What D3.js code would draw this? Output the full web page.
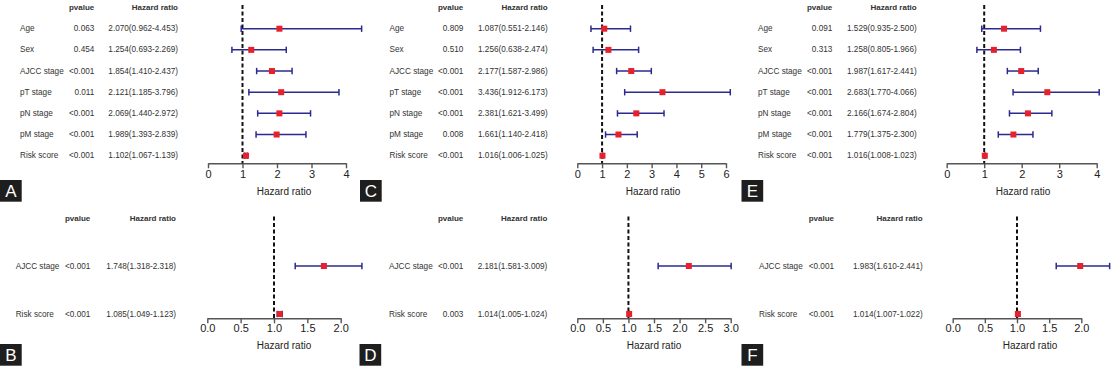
<!DOCTYPE html>
<html>
<head>
<meta charset="utf-8">
<script src="https://cdn.jsdelivr.net/npm/d3@7/dist/d3.min.js"></script>
<style>
  html, body { margin: 0; padding: 0; background: #fff; }
  svg { display: block; font-family: "Liberation Sans", Arial, Helvetica, sans-serif; }
</style>
</head>
<body>
<svg id="chart" width="1112" height="366"></svg>
<script>
// ---------------- DATA ----------------
const topVars = ["Age", "Sex", "AJCC stage", "pT stage", "pN stage", "pM stage", "Risk score"];
const bottomVars = ["AJCC stage", "Risk score"];

// Panel A
const pA  = ["0.063", "0.454", "<0.001", "0.011", "<0.001", "<0.001", "<0.001"];
const hrA = [2.070, 1.254, 1.854, 2.121, 2.069, 1.989, 1.102];
const loA = [0.962, 0.693, 1.410, 1.185, 1.440, 1.393, 1.067];
const hiA = [4.453, 2.269, 2.437, 3.796, 2.972, 2.839, 1.139];
const ticksA = [0, 1, 2, 3, 4];

// Panel C
const pC  = ["0.809", "0.510", "<0.001", "<0.001", "<0.001", "0.008", "<0.001"];
const hrC = [1.087, 1.256, 2.177, 3.436, 2.381, 1.661, 1.016];
const loC = [0.551, 0.638, 1.587, 1.912, 1.621, 1.140, 1.006];
const hiC = [2.146, 2.474, 2.986, 6.173, 3.499, 2.418, 1.025];
const ticksC = [0, 1, 2, 3, 4, 5, 6];

// Panel E
const pE  = ["0.091", "0.313", "<0.001", "<0.001", "<0.001", "<0.001", "<0.001"];
const hrE = [1.529, 1.258, 1.987, 2.683, 2.166, 1.779, 1.016];
const loE = [0.935, 0.805, 1.617, 1.770, 1.674, 1.375, 1.008];
const hiE = [2.500, 1.966, 2.441, 4.066, 2.804, 2.300, 1.023];
const ticksE = [0, 1, 2, 3, 4];

// Panel B
const pB  = ["<0.001", "<0.001"];
const hrB = [1.748, 1.085];
const loB = [1.318, 1.049];
const hiB = [2.318, 1.123];
const ticksB = [0, 0.5, 1, 1.5, 2];

// Panel D
const pD  = ["<0.001", "0.003"];
const hrD = [2.181, 1.014];
const loD = [1.581, 1.005];
const hiD = [3.009, 1.024];
const ticksD = [0, 0.5, 1, 1.5, 2, 2.5, 3];

// Panel F
const pF  = ["<0.001", "<0.001"];
const hrF = [1.983, 1.014];
const loF = [1.610, 1.007];
const hiF = [2.441, 1.022];
const ticksF = [0, 0.5, 1, 1.5, 2];

const panelLetters = ["A", "B", "C", "D", "E", "F"];

// ---------------- LAYOUT ----------------
const topRow = { header: 7, rows: [28.7, 155.7], axisY: 163.3, tickY: 173.5, titleY: 191, dashTop: 5, letterY: 180 };
const botRow = { header: 218.3, rows: [266, 314], axisY: 318.3, tickY: 327.5, titleY: 345.7, dashTop: 216.5, letterY: 344 };

const panels = [
  { letter: "A", row: topRow, vars: topVars, p: pA, hr: hrA, lo: loA, hi: hiA, ticks: ticksA, fmt: d3.format("d"),
    x0: 208, x1: 346, labelX: 20, pvalX: 94.3, hrX: 178, titleX: 284, letterX: 0 },
  { letter: "C", row: topRow, vars: topVars, p: pC, hr: hrC, lo: loC, hi: hiC, ticks: ticksC, fmt: d3.format("d"),
    x0: 577.3, x1: 726, labelX: 389.5, pvalX: 463.3, hrX: 547.7, titleX: 653, letterX: 360 },
  { letter: "E", row: topRow, vars: topVars, p: pE, hr: hrE, lo: loE, hi: hiE, ticks: ticksE, fmt: d3.format("d"),
    x0: 946.7, x1: 1096.7, labelX: 758, pvalX: 832.3, hrX: 916.7, titleX: 1023, letterX: 741.5 },
  { letter: "B", row: botRow, vars: bottomVars, p: pB, hr: hrB, lo: loB, hi: hiB, ticks: ticksB, fmt: d3.format(".1f"),
    x0: 207.3, x1: 340.7, labelX: 15.7, pvalX: 90.3, hrX: 176, titleX: 284, letterX: 0 },
  { letter: "D", row: botRow, vars: bottomVars, p: pD, hr: hrD, lo: loD, hi: hiD, ticks: ticksD, fmt: d3.format(".1f"),
    x0: 577.3, x1: 730.7, labelX: 389, pvalX: 463.3, hrX: 547.3, titleX: 654, letterX: 359.5 },
  { letter: "F", row: botRow, vars: bottomVars, p: pF, hr: hrF, lo: loF, hi: hiF, ticks: ticksF, fmt: d3.format(".1f"),
    x0: 952.7, x1: 1081.3, labelX: 759, pvalX: 834, hrX: 922.7, titleX: 1030, letterX: 741.5 }
];

const svg = d3.select("#chart");
const textColor = "#333";
const ciColor = "#2a2a90";
const markColor = "#e8202a";

panels.forEach(P => {
  const g = svg.append("g");
  const R = P.row;
  const domainMax = P.ticks[P.ticks.length - 1];
  const x = d3.scaleLinear().domain([0, domainMax]).range([P.x0, P.x1]);
  const y = d3.scalePoint().domain(P.vars).range(R.rows);

  // headers
  g.append("text").attr("x", P.pvalX).attr("y", R.header).attr("text-anchor", "end")
    .attr("dominant-baseline", "central").attr("font-size", 8).attr("font-weight", "bold")
    .attr("fill", textColor).text("pvalue");
  g.append("text").attr("x", P.hrX).attr("y", R.header).attr("text-anchor", "end")
    .attr("dominant-baseline", "central").attr("font-size", 8).attr("font-weight", "bold")
    .attr("fill", textColor).text("Hazard ratio");

  const rows = P.vars.map((v, i) => ({ v, p: P.p[i], hr: P.hr[i], lo: P.lo[i], hi: P.hi[i] }));

  // table columns
  g.selectAll(".lab").data(rows).enter().append("text")
    .attr("x", P.labelX).attr("y", d => y(d.v)).attr("dominant-baseline", "central")
    .attr("font-size", 8.2).attr("fill", textColor).text(d => d.v);
  g.selectAll(".pv").data(rows).enter().append("text")
    .attr("x", P.pvalX).attr("y", d => y(d.v)).attr("dominant-baseline", "central").attr("text-anchor", "end")
    .attr("font-size", 8.2).attr("fill", textColor).text(d => d.p);
  g.selectAll(".hrt").data(rows).enter().append("text")
    .attr("x", P.hrX).attr("y", d => y(d.v)).attr("dominant-baseline", "central").attr("text-anchor", "end")
    .attr("font-size", 8.2).attr("fill", textColor)
    .text(d => `${d.hr.toFixed(3)}(${d.lo.toFixed(3)}-${d.hi.toFixed(3)})`);

  // axis
  const axis = d3.axisBottom(x).tickValues(P.ticks).tickFormat(P.fmt).tickSize(5).tickSizeOuter(0).tickPadding(3);
  const ax = g.append("g").attr("transform", `translate(0,${R.axisY})`).call(axis);
  ax.select(".domain").attr("stroke", "#555").attr("stroke-width", 1.4);
  ax.selectAll(".tick line").attr("stroke", "#555").attr("stroke-width", 1.4);
  ax.selectAll(".tick text").attr("font-size", 11).attr("fill", "#222")
    .attr("font-family", "'Liberation Sans', Arial, sans-serif")
    .attr("y", null).attr("dy", null).attr("dominant-baseline", "central")
    .attr("transform", `translate(0,${R.tickY - R.axisY})`);

  g.append("text").attr("x", P.titleX).attr("y", R.titleY).attr("text-anchor", "middle")
    .attr("dominant-baseline", "central").attr("font-size", 10).attr("fill", "#222").text("Hazard ratio");

  // reference line at HR = 1
  g.append("line").attr("x1", x(1)).attr("x2", x(1)).attr("y1", R.dashTop).attr("y2", R.axisY)
    .attr("stroke", "#111").attr("stroke-width", 2).attr("stroke-dasharray", "4,2.5");

  // CIs
  const cap = 3.2;
  const ci = g.selectAll(".ci").data(rows).enter().append("g");
  ci.append("line").attr("x1", d => x(d.lo)).attr("x2", d => x(d.hi))
    .attr("y1", d => y(d.v)).attr("y2", d => y(d.v)).attr("stroke", ciColor).attr("stroke-width", 1.5);
  ci.append("line").attr("x1", d => x(d.lo)).attr("x2", d => x(d.lo))
    .attr("y1", d => y(d.v) - cap).attr("y2", d => y(d.v) + cap).attr("stroke", ciColor).attr("stroke-width", 1.5);
  ci.append("line").attr("x1", d => x(d.hi)).attr("x2", d => x(d.hi))
    .attr("y1", d => y(d.v) - cap).attr("y2", d => y(d.v) + cap).attr("stroke", ciColor).attr("stroke-width", 1.5);
  const ms = 6;
  ci.append("rect").attr("x", d => x(d.hr) - ms / 2).attr("y", d => y(d.v) - ms / 2)
    .attr("width", ms).attr("height", ms).attr("fill", markColor);

  // panel letter
  g.append("rect").attr("x", P.letterX).attr("y", R.letterY).attr("width", 21.7).attr("height", 21.7).attr("fill", "#1e1e1e");
  g.append("text").attr("x", P.letterX + 10.85).attr("y", R.letterY + 11.5).attr("text-anchor", "middle")
    .attr("dominant-baseline", "central").attr("font-size", 17).attr("fill", "#fff").text(P.letter);
});
</script>
</body>
</html>
